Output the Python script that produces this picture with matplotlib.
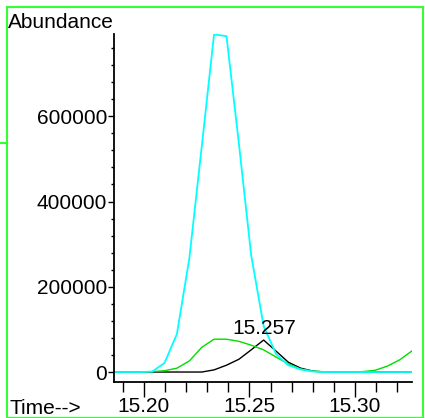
import matplotlib
matplotlib.use('Agg')
import matplotlib.pyplot as plt
from matplotlib.ticker import MultipleLocator, FixedLocator
from matplotlib.lines import Line2D

#------------------------------------------------------------------------------

times = [15.1863, 15.1921, 15.1980, 15.2039, 15.2097, 15.2156, 15.2215,
         15.2274, 15.2332, 15.2391, 15.2450, 15.2508, 15.2567, 15.2626,
         15.2684, 15.2743, 15.2802, 15.2861, 15.2919, 15.2978, 15.3037,
         15.3095, 15.3154, 15.3213, 15.3271]

cyan_trace = [0, 0, 0, 1000, 21000, 89000, 267000, 530000, 792000, 788000,
              535000, 274000, 108000, 42000, 16000, 6000, 1000, 0, 0, 0,
              0, 0, 0, 0, 0]

green_trace = [0, 0, 0, 1000, 3000, 9000, 26000, 58000, 77000, 77000,
               72000, 63000, 52000, 35000, 19000, 7000, 2000, 500, 0, 0,
               1000, 4000, 14000, 29000, 50000]

black_trace = [0, 0, 0, 0, 0, 0, 0, 0, 5000, 16000, 30000, 52000, 75000,
               49000, 23000, 9000, 2000, 0, 0, 0, 0, 0, 0, 0, 0]

peak_time = 15.257
peak_value = 75000

y_ticks = [0, 200000, 400000, 600000]
x_ticks = [15.20, 15.25, 15.30]
x_tick_labels = ['15.20', '15.25', '15.30']

#------------------------------------------------------------------------------

plt.rcParams['font.family'] = ['Liberation Sans', 'DejaVu Sans']
fs = 15

W, H = 425, 418
fig = plt.figure(figsize=(W / 100, H / 100), dpi=100)
ax = fig.add_axes([114 / W, 1 - 382 / H, (412 - 114) / W, (382 - 34) / H])

ax.plot(times, black_trace, color='black', lw=1.0)
ax.plot(times, green_trace, color='#00dd00', lw=1.0)
ax.plot(times, cyan_trace, color='#00ffff', lw=1.3)

ax.text(peak_time, peak_value + 14000, '%.3f' % peak_time, ha='center',
        va='baseline', fontsize=fs)

ax.set_xlim(15.1858, 15.3270)
ax.set_ylim(-23400, 793000)

for side in ['top', 'right']:
    ax.spines[side].set_visible(False)
ax.spines['left'].set_linewidth(1.3)
ax.spines['bottom'].set_linewidth(1.3)

ax.yaxis.set_major_locator(FixedLocator(y_ticks))
ax.yaxis.set_minor_locator(MultipleLocator(40000))
ax.set_yticklabels([str(v) for v in y_ticks])
ax.xaxis.set_major_locator(FixedLocator(x_ticks))
ax.xaxis.set_minor_locator(MultipleLocator(0.01))
ax.set_xticklabels(x_tick_labels)

ax.tick_params(axis='y', which='major', length=4, width=1, pad=1,
               labelsize=fs)
ax.tick_params(axis='y', which='minor', length=2, width=1)
ax.tick_params(axis='x', which='major', length=11, width=1, pad=0,
               labelsize=fs)
ax.tick_params(axis='x', which='minor', length=7, width=1)

fig.text(8 / W, 1 - 28 / H, 'Abundance', fontsize=fs, va='baseline')
fig.text(10 / W, 1 - 414 / H, 'Time-->', fontsize=fs, va='baseline')

# green frame round the panel
frame = '#33ff33'
fig.add_artist(Line2D([7 / W, 7 / W], [0, 1 - 7 / H], color=frame, lw=1.5))
fig.add_artist(Line2D([7 / W, 423 / W], [1 - 7 / H, 1 - 7 / H], color=frame, lw=1.5))
fig.add_artist(Line2D([423 / W, 423 / W], [0, 1 - 7 / H], color=frame, lw=1.5))
fig.add_artist(Line2D([7 / W, 423 / W], [1 - 417 / H, 1 - 417 / H], color=frame, lw=1.0))
fig.add_artist(Line2D([0, 7 / W], [1 - 143 / H, 1 - 143 / H], color=frame, lw=1.5))

fig.savefig('out.png', dpi=100)
